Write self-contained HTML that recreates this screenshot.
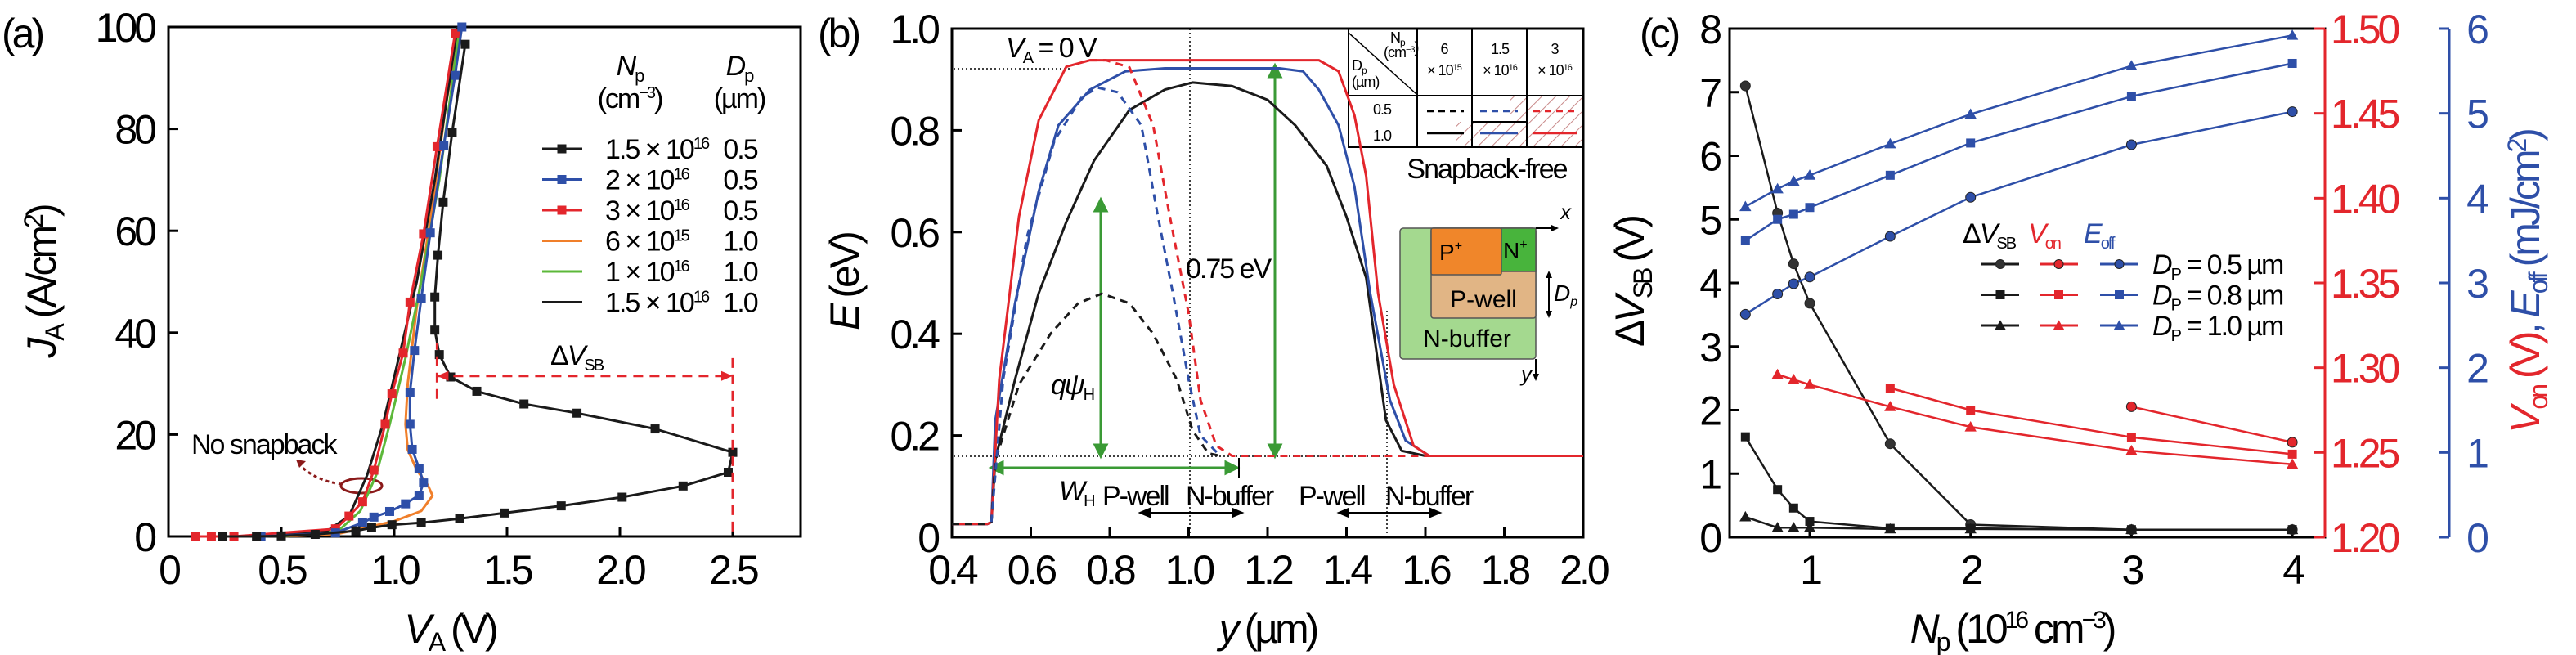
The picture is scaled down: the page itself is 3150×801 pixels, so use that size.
<!DOCTYPE html>
<html><head><meta charset="utf-8"><style>
html,body{margin:0;padding:0;background:#fff}
svg{display:block;font-family:"Liberation Sans",sans-serif}
.t{font-size:50px;letter-spacing:-4px}
.l{font-size:34px;letter-spacing:-2px}
</style></head><body>
<svg id="fig" width="3150" height="801" viewBox="0 0 3150 801" xmlns="http://www.w3.org/2000/svg">
<defs>
<pattern id="hatch" width="12" height="12" patternUnits="userSpaceOnUse" patternTransform="rotate(45)"><line x1="0" y1="0" x2="0" y2="12" stroke="#c98a8a" stroke-width="2"/></pattern>
</defs>
<g id="pa">
<text x="2" y="58" class="t">(a)</text>
<rect x="206" y="33" width="773" height="623" fill="none" stroke="#000" stroke-width="3"/>
<text x="550" y="786" class="t" text-anchor="middle"><tspan font-style="italic">V</tspan><tspan font-size="32" dy="10">A</tspan><tspan dy="-10"> (V)</tspan></text>
<text transform="translate(68,345) rotate(-90)" class="t" text-anchor="middle"><tspan font-style="italic">J</tspan><tspan font-size="32" dy="10">A</tspan><tspan dy="-10"> (A/cm</tspan><tspan font-size="32" dy="-16">2</tspan><tspan dy="16">)</tspan></text>
<g class="l">
<text x="770" y="92" text-anchor="middle"><tspan font-style="italic">N</tspan><tspan font-size="22" dy="8">p</tspan></text>
<text x="770" y="132" text-anchor="middle">(cm<tspan font-size="20" dy="-12">−3</tspan><tspan dy="12">)</tspan></text>
<text x="904" y="92" text-anchor="middle"><tspan font-style="italic">D</tspan><tspan font-size="22" dy="8">p</tspan></text>
<text x="904" y="132" text-anchor="middle">(µm)</text>
</g>
<text x="234" y="555" class="l">No snapback</text>
<ellipse cx="442" cy="594" rx="25" ry="9" fill="none" stroke="#8b1a1a" stroke-width="3"/>
<path d="M418,592 Q385,588 366,568" fill="none" stroke="#8b1a1a" stroke-width="3" stroke-dasharray="4,4"/>
<path d="M362,562 l12,2 l-8,8 z" fill="#8b1a1a"/>
<text x="673" y="446" class="l">Δ<tspan font-style="italic">V</tspan><tspan font-size="20" dy="7">SB</tspan></text>
</g>
<g id="pb">
<text x="1000" y="58" class="t">(b)</text>
<rect x="1164" y="35" width="772" height="622" fill="none" stroke="#000" stroke-width="3"/>
<text x="1550" y="786" class="t" text-anchor="middle"><tspan font-style="italic">y</tspan> (µm)</text>
<text transform="translate(1050,345) rotate(-90)" class="t" text-anchor="middle"><tspan font-style="italic">E</tspan> (eV)</text>
<text x="1230" y="70" class="l"><tspan font-style="italic">V</tspan><tspan font-size="20" dy="7">A</tspan><tspan dy="-7"> = 0 V</tspan></text>
<line x1="1455" y1="35" x2="1455" y2="657" stroke="#000" stroke-width="1.5" stroke-dasharray="2,3"/>
<line x1="1696" y1="380" x2="1696" y2="657" stroke="#000" stroke-width="1.5" stroke-dasharray="2,3"/>
<line x1="1166" y1="84" x2="1310" y2="84" stroke="#000" stroke-width="1.5" stroke-dasharray="2,3"/>
<line x1="1166" y1="558" x2="1700" y2="558" stroke="#000" stroke-width="1.5" stroke-dasharray="2,3"/>
<g stroke="#3a9a35" stroke-width="3" fill="#3a9a35">
<line x1="1346" y1="250" x2="1346" y2="555"/><path d="M1346,244 l-7,14 h14z M1346,558 l-7,-14 h14z"/>
<line x1="1559" y1="86" x2="1559" y2="555"/><path d="M1559,80 l-7,14 h14z M1559,558 l-7,-14 h14z"/>
<line x1="1218" y1="572" x2="1510" y2="572"/><path d="M1212,572 l14,-7 v14z M1513,572 l-14,-7 v14z"/>
</g>
<line x1="1515" y1="560" x2="1515" y2="584" stroke="#000" stroke-width="2"/>
<text x="1285" y="482" class="l"><tspan font-style="italic">qψ</tspan><tspan font-size="20" dy="7">H</tspan></text>
<text x="1450" y="340" class="l">0.75 eV</text>
<text x="1295" y="612" class="l"><tspan font-style="italic">W</tspan><tspan font-size="20" dy="7">H</tspan></text>
<g class="l">
<text x="1348" y="618">P-well</text><text x="1450" y="618">N-buffer</text>
<text x="1588" y="618">P-well</text><text x="1694" y="618">N-buffer</text>
</g>
<g stroke="#000" stroke-width="2" fill="#000">
<line x1="1398" y1="627" x2="1515" y2="627"/><path d="M1394,627 l12,-5 v10z M1519,627 l-12,-5 v10z"/>
<line x1="1641" y1="627" x2="1757" y2="627"/><path d="M1637,627 l12,-5 v10z M1761,627 l-12,-5 v10z"/>
</g>
<g>
<rect x="1780" y="149" width="67" height="31" fill="url(#hatch)"/>
<rect x="1847" y="117" width="89" height="63" fill="url(#hatch)"/>
<rect x="1649" y="35" width="287" height="145" fill="none" stroke="#000" stroke-width="2"/>
<line x1="1649" y1="117" x2="1936" y2="117" stroke="#000" stroke-width="2"/>
<line x1="1733" y1="35" x2="1733" y2="180" stroke="#000" stroke-width="2"/>
<line x1="1800" y1="35" x2="1800" y2="180" stroke="#000" stroke-width="2"/>
<line x1="1867" y1="35" x2="1867" y2="180" stroke="#000" stroke-width="2"/>
<line x1="1800" y1="149" x2="1867" y2="149" stroke="#000" stroke-width="2"/>
<line x1="1649" y1="40" x2="1732" y2="115" stroke="#000" stroke-width="1.5"/>
<g font-size="18" letter-spacing="-1"><text x="1700" y="52">N<tspan font-size="12" dy="4">p</tspan></text><text x="1692" y="70">(cm<tspan font-size="11" dy="-6">−3</tspan>)</text>
<text x="1653" y="86">D<tspan font-size="12" dy="4">p</tspan></text><text x="1653" y="106">(µm)</text>
<text x="1766" y="66" text-anchor="middle">6</text><text x="1766" y="92" text-anchor="middle">× 10<tspan font-size="11" dy="-6">15</tspan></text>
<text x="1834" y="66" text-anchor="middle">1.5</text><text x="1834" y="92" text-anchor="middle">× 10<tspan font-size="11" dy="-6">16</tspan></text>
<text x="1901" y="66" text-anchor="middle">3</text><text x="1901" y="92" text-anchor="middle">× 10<tspan font-size="11" dy="-6">16</tspan></text>
<text x="1690" y="140" text-anchor="middle">0.5</text><text x="1690" y="172" text-anchor="middle">1.0</text></g>
<g stroke-width="2.5"><line x1="1745" y1="136" x2="1790" y2="136" stroke="#000" stroke-dasharray="8,6"/><line x1="1745" y1="163" x2="1790" y2="163" stroke="#000"/>
<line x1="1810" y1="136" x2="1856" y2="136" stroke="#2e4fa8" stroke-dasharray="8,6"/><line x1="1810" y1="163" x2="1856" y2="163" stroke="#2e4fa8"/>
<line x1="1875" y1="136" x2="1928" y2="136" stroke="#e3262c" stroke-dasharray="8,6"/><line x1="1875" y1="163" x2="1928" y2="163" stroke="#e3262c"/></g>
</g>
<text x="1818" y="218" class="l" text-anchor="middle">Snapback-free</text>
<g>
<rect x="1712" y="279" width="166" height="160" rx="4" fill="#a4d98f" stroke="#555" stroke-width="1.5"/>
<rect x="1750" y="279" width="128" height="110" rx="3" fill="#e1b585" stroke="#555" stroke-width="1.5"/>
<rect x="1750" y="279" width="86" height="57" rx="2" fill="#f0862a" stroke="#555" stroke-width="1.5"/>
<rect x="1836" y="279" width="42" height="53" fill="#48b43c" stroke="#555" stroke-width="1.5"/>
<text x="1760" y="318" font-size="28">P<tspan font-size="16" dy="-12">+</tspan></text>
<text x="1838" y="316" font-size="28">N<tspan font-size="16" dy="-12">+</tspan></text>
<text x="1814" y="376" font-size="30" text-anchor="middle">P-well</text>
<text x="1794" y="424" font-size="30" text-anchor="middle">N-buffer</text>
<line x1="1878" y1="279" x2="1900" y2="279" stroke="#000" stroke-width="2"/><path d="M1906,279 l-9,-4 v8z"/>
<line x1="1878" y1="439" x2="1878" y2="460" stroke="#000" stroke-width="2"/><path d="M1878,466 l-4,-9 h8z"/>
<line x1="1894" y1="334" x2="1894" y2="386" stroke="#000" stroke-width="2"/><path d="M1894,331 l-4,9 h8z M1894,389 l-4,-9 h8z"/>
<text x="1908" y="268" font-size="26" font-style="italic">x</text>
<text x="1860" y="466" font-size="26" font-style="italic">y</text>
<text x="1900" y="368" font-size="28" font-style="italic">D<tspan font-size="16" dy="6">p</tspan></text>
</g>
</g>
<g id="pc">
<text x="2005" y="58" class="t">(c)</text>
<rect x="2115" y="35" width="728" height="622" fill="none" stroke="#000" stroke-width="3"/>
<line x1="2843" y1="35" x2="2843" y2="657" stroke="#e3262c" stroke-width="3"/>
<line x1="2995" y1="35" x2="2995" y2="657" stroke="#2e4fa8" stroke-width="3"/>
<text x="2460" y="786" class="t" text-anchor="middle"><tspan font-style="italic">N</tspan><tspan font-size="32" dy="10">p</tspan><tspan dy="-10"> (10</tspan><tspan font-size="30" dy="-18">16</tspan><tspan dy="18"> cm</tspan><tspan font-size="30" dy="-18">−3</tspan><tspan dy="18">)</tspan></text>
<text transform="translate(2010,345) rotate(-90)" class="t" text-anchor="middle">Δ<tspan font-style="italic">V</tspan><tspan font-size="32" dy="10">SB</tspan><tspan dy="-10"> (V)</tspan></text>
<text transform="translate(3105,345) rotate(-90)" class="t" text-anchor="middle"><tspan fill="#e3262c"><tspan font-style="italic">V</tspan><tspan font-size="32" dy="10">on</tspan><tspan dy="-10"> (V)</tspan></tspan><tspan fill="#2e4fa8">, <tspan font-style="italic">E</tspan><tspan font-size="32" dy="10">off</tspan><tspan dy="-10"> (mJ/cm</tspan><tspan font-size="32" dy="-16">2</tspan><tspan dy="16">)</tspan></tspan></text>
<g class="l">
<text x="2400" y="297">Δ<tspan font-style="italic">V</tspan><tspan font-size="20" dy="7">SB</tspan></text>
<text x="2480" y="297" fill="#e3262c"><tspan font-style="italic">V</tspan><tspan font-size="20" dy="7">on</tspan></text>
<text x="2548" y="297" fill="#2e4fa8"><tspan font-style="italic">E</tspan><tspan font-size="20" dy="7">off</tspan></text>
</g>
</g>
<g id="marks"></g>
</svg>
<script>
const aTicksX=[0,0.5,1.0,1.5,2.0,2.5];
const aTickLabelsX=["0","0.5","1.0","1.5","2.0","2.5"];
const aTicksY=[0,20,40,60,80,100];
const a1V=[0.24,0.39,0.5,0.65,0.83,0.9,0.99,1.12,1.29,1.49,1.74,2.01,2.28,2.48,2.5,2.156,1.81,1.575,1.366,1.25,1.2,1.18,1.18,1.194,1.217,1.257,1.315];
const a1J=[0,0,0.1,0.4,1.1,1.7,2.3,2.7,3.5,4.6,6,7.7,9.9,12.6,16.5,21.1,24.2,26,28.5,31.3,35.7,40.5,47,55.2,65.6,79.3,96.6];
const a2V=[0.41,0.74,0.86,0.91,0.98,1.05,1.11,1.13,1.11,1.08,1.07,1.07,1.09,1.12,1.16,1.22,1.27,1.3];
const a2J=[0,0.7,2.7,3.8,4.9,6.4,8.1,10.5,13.4,17.1,22,28.3,36.5,46.7,59.6,76.8,90.5,100];
const a3V=[0.12,0.19,0.29,0.74,0.8,0.86,0.91,0.96,0.99,1.04,1.07,1.13,1.19,1.27];
const a3J=[0,0,0,1.5,4,6.8,13,22,28,36,46,59.4,76.5,98.8];
const a4V=[0.5,0.75,1.0,1.12,1.17,1.15,1.1,1.06,1.05,1.06,1.1,1.17,1.23,1.29];
const a4J=[0,0.5,3,5,8,10,13,17,22,30,45,65,85,100];
const a5V=[0.5,0.75,0.85,0.92,0.98,1.05,1.12,1.2,1.29];
const a5J=[0,1,5,12,22,35,50,70,100];
const a6V=[0.5,0.7,0.8,0.88,0.95,1.02,1.1,1.18,1.28];
const a6J=[0.5,1,4,12,22,35,50,70,100];
const aLegendNp=["1.5 × 10","2 × 10","3 × 10","6 × 10","1 × 10","1.5 × 10"];
const aLegendExp=["16","16","16","15","16","16"];
const aLegendDp=["0.5","0.5","0.5","1.0","1.0","1.0"];
const bTicksX=[0.4,0.6,0.8,1.0,1.2,1.4,1.6,1.8,2.0];
const bTickLabelsX=["0.4","0.6","0.8","1.0","1.2","1.4","1.6","1.8","2.0"];
const bTicksY=[0,0.2,0.4,0.6,0.8,1.0];
const bTickLabelsY=["0","0.2","0.4","0.6","0.8","1.0"];
const bBlackSolidY=[0.4,0.49,0.5,0.51,0.56,0.62,0.69,0.76,0.85,0.94,1.01,1.11,1.2,1.27,1.35,1.4,1.45,1.5,1.54,1.6,2.0];
const bBlackSolidE=[0.026,0.026,0.03,0.153,0.31,0.48,0.62,0.74,0.84,0.88,0.894,0.887,0.86,0.81,0.73,0.63,0.51,0.23,0.17,0.16,0.16];
const bBlueSolidY=[0.4,0.49,0.5,0.51,0.56,0.62,0.67,0.75,0.84,0.94,1.23,1.29,1.33,1.38,1.42,1.46,1.51,1.55,1.61,2.0];
const bBlueSolidE=[0.026,0.026,0.03,0.23,0.46,0.68,0.81,0.88,0.916,0.922,0.922,0.916,0.88,0.81,0.69,0.48,0.27,0.19,0.16,0.16];
const bRedSolidY=[0.4,0.49,0.5,0.52,0.57,0.62,0.69,0.75,1.33,1.38,1.42,1.45,1.48,1.52,1.57,1.61,2.0];
const bRedSolidE=[0.026,0.026,0.03,0.31,0.63,0.82,0.925,0.938,0.938,0.916,0.83,0.71,0.48,0.30,0.18,0.16,0.16];
const bBlackDashY=[0.4,0.49,0.5,0.51,0.57,0.65,0.72,0.78,0.85,0.91,0.97,1.01,1.05,1.08];
const bBlackDashE=[0.026,0.026,0.03,0.15,0.3,0.4,0.46,0.479,0.46,0.4,0.31,0.21,0.165,0.16];
const bBlueDashY=[0.5,0.53,0.59,0.66,0.73,0.77,0.82,0.88,0.92,0.96,1.0,1.03,1.08];
const bBlueDashE=[0.03,0.31,0.59,0.78,0.866,0.884,0.875,0.81,0.64,0.48,0.31,0.2,0.16];
const bRedDashY=[0.75,0.79,0.85,0.91,0.95,1.0,1.03,1.07,1.11,2.0];
const bRedDashE=[0.938,0.938,0.924,0.81,0.64,0.44,0.27,0.18,0.16,0.16];
const cTicksX=[1,2,3,4];
const cTicksLeft=[0,1,2,3,4,5,6,7,8];
const cTicksRed=[1.20,1.25,1.30,1.35,1.40,1.45,1.50];
const cTickLabelsRed=["1.20","1.25","1.30","1.35","1.40","1.45","1.50"];
const cTicksBlue=[0,1,2,3,4,5,6];
const cNp=[0.6,0.8,0.9,1.0,1.5,2,3,4];
const cVsb05=[7.1,5.1,4.3,3.68,1.47,0.2,0.12,0.12];
const cVsb08=[1.58,0.75,0.46,0.25,0.14,0.14,0.12,0.12];
const cVsb10=[0.32,0.15,0.15,0.15,0.13,0.13,0.12,0.12];
const cVonNp05=[3,4];
const cVon05=[1.277,1.256];
const cVonNp08=[1.5,2,3,4];
const cVon08=[1.288,1.275,1.259,1.249];
const cVonNp10=[0.8,0.9,1.0,1.5,2,3,4];
const cVon10=[1.296,1.293,1.290,1.277,1.265,1.251,1.243];
const cEoff05=[2.63,2.87,2.99,3.07,3.55,4.01,4.63,5.02];
const cEoff08=[3.5,3.75,3.81,3.89,4.27,4.65,5.2,5.59];
const cEoff10=[3.9,4.11,4.2,4.27,4.64,4.99,5.56,5.92];
const cLegendLabels=["0.5","0.8","1.0"];

const NS="http://www.w3.org/2000/svg";
const root=document.getElementById('marks');
function mk(tag,attrs,parent){const e=document.createElementNS(NS,tag);for(const k in attrs)e.setAttribute(k,attrs[k]);(parent||root).appendChild(e);return e;}
const xa=v=>206+v*276, ya=j=>656-j*6.23;
const xb=y=>1164+(y-0.4)*482.5, yb=e=>657-e*622;
const xc=n=>2213+(n-1)*196.7, ycl=v=>657-v*77.75, ycr=v=>657-(v-1.2)/0.3*622, ycb=v=>657-v*103.67;
const BLK="#1a1a1a",BLU="#2e4fa8",RED="#e3262c",ORG="#f07f2a",GRN="#5cb83a";

function poly(xs,ys,fx,fy,color,dash,w,name){
  const p=mk('polyline',{points:xs.map((v,i)=>fx(v).toFixed(1)+','+fy(ys[i]).toFixed(1)).join(' '),fill:'none',stroke:color,'stroke-width':w||3,'stroke-dasharray':dash||'none','stroke-linejoin':'round'});
  
  
  return p;
}
function marker(shape,x,y,color,s,name){
  let e;
  if(shape==='sq') e=mk('rect',{x:x-s/2,y:y-s/2,width:s,height:s,fill:color});
  else if(shape==='ci') e=mk('circle',{cx:x,cy:y,r:s/2,fill:color,stroke:'#222','stroke-width':1});
  else e=mk('path',{d:`M${x},${y-s*0.6} L${x+s*0.6},${y+s*0.45} L${x-s*0.6},${y+s*0.45}Z`,fill:color});
  
  
  return e;
}
function txt(x,y,s,cls,anchor,fill,name){
  const t=mk('text',{x:x,y:y,'class':cls,'text-anchor':anchor||'middle',fill:fill||'#000'});t.textContent=s;
  
  
  return t;
}
function tick(x1,y1,x2,y2,color,name){
  const l=mk('line',{x1:x1,y1:y1,x2:x2,y2:y2,stroke:color||'#000','stroke-width':3});
  
  
}
aTicksX.forEach((v,i)=>{tick(xa(v),656,xa(v),644,'#000','a-x-tick');txt(xa(v),714,aTickLabelsX[i],'t','middle','#000','a-x-tick-label');});
aTicksY.forEach(v=>{tick(206,ya(v),218,ya(v),'#000','a-y-tick');txt(188,ya(v)+18,String(v),'t','end','#000','a-y-tick-label');});
poly(a4V,a4J,xa,ya,ORG,null,3,'a-series-6e15-1um');
poly(a5V,a5J,xa,ya,GRN,null,3,'a-series-1e16-1um');
poly(a6V,a6J,xa,ya,BLK,null,3,'a-series-1p5e16-1um');
poly(a3V,a3J,xa,ya,RED,null,3,'a-series-3e16-0p5um');
a3V.forEach((v,i)=>marker('sq',xa(v),ya(a3J[i]),RED,11,'a-point-3e16'));
poly(a2V,a2J,xa,ya,BLU,null,3,'a-series-2e16-0p5um');
a2V.forEach((v,i)=>marker('sq',xa(v),ya(a2J[i]),BLU,11,'a-point-2e16'));
poly(a1V,a1J,xa,ya,BLK,null,3,'a-series-1p5e16-0p5um');
a1V.forEach((v,i)=>marker('sq',xa(v),ya(a1J[i]),BLK,11,'a-point-1p5e16'));
poly([1.19,2.5],[31.5,31.5],xa,ya,RED,'12,8',3,'delta-vsb-arrow');
poly([1.19,1.19],[27,38],xa,ya,RED,'12,8',3,'delta-vsb-left-bar');
poly([2.5,2.5],[35,0],xa,ya,RED,'12,8',3,'delta-vsb-right-bar');
{const h=mk('path',{d:`M${xa(1.19)},${ya(31.5)} l14,-6 v12z M${xa(2.5)},${ya(31.5)} l-14,-6 v12z`,fill:RED});

}
const aLegColors=[BLK,BLU,RED,ORG,GRN,BLK];
const aLegMark=[true,true,true,false,false,false];
aLegendNp.forEach((s,i)=>{
  const y=182+i*37.5;
  tick(663,y,712,y,aLegColors[i],'a-legend-line');
  if(aLegMark[i]) marker('sq',687,y,aLegColors[i],11,'a-legend-marker');
  const t=txt(740,y+12,s,'l','start','#000','a-legend-np');
  const sp=mk('tspan',{'font-size':20,dy:-12},t);sp.textContent=aLegendExp[i];
  txt(905,y+12,aLegendDp[i],'l','middle','#000','a-legend-dp');
});
bTicksX.forEach((v,i)=>{tick(xb(v),657,xb(v),645,'#000','b-x-tick');txt(xb(v),714,bTickLabelsX[i],'t','middle','#000','b-x-tick-label');});
bTicksY.forEach((v,i)=>{tick(1164,yb(v),1176,yb(v),'#000','b-y-tick');txt(1146,yb(v)+18,bTickLabelsY[i],'t','end','#000','b-y-tick-label');});
poly(bBlackSolidY,bBlackSolidE,xb,yb,BLK,null,3,'b-curve-6e15-1um');
poly(bBlueSolidY,bBlueSolidE,xb,yb,BLU,null,3,'b-curve-1p5e16-1um');
poly(bRedSolidY,bRedSolidE,xb,yb,RED,null,3,'b-curve-3e16-1um');
poly(bBlackDashY,bBlackDashE,xb,yb,BLK,'9,7',3,'b-curve-6e15-0p5um');
poly(bBlueDashY,bBlueDashE,xb,yb,BLU,'9,7',3,'b-curve-1p5e16-0p5um');
poly(bRedDashY,bRedDashE,xb,yb,RED,'9,7',3,'b-curve-3e16-0p5um');
cTicksX.forEach(v=>{tick(xc(v),657,xc(v),645,'#000','c-x-tick');txt(xc(v),714,String(v),'t','middle','#000','c-x-tick-label');});
cTicksLeft.forEach(v=>{tick(2115,ycl(v),2127,ycl(v),'#000','c-left-tick');txt(2102,ycl(v)+18,String(v),'t','end','#000','c-left-tick-label');});
cTicksRed.forEach((v,i)=>{tick(2830,ycr(v),2843,ycr(v),RED,'c-von-tick');txt(2850,ycr(v)+18,cTickLabelsRed[i],'t','start',RED,'c-von-tick-label');});
cTicksBlue.forEach(v=>{tick(2982,ycb(v),2995,ycb(v),BLU,'c-eoff-tick');txt(3028,ycb(v)+18,String(v),'t','middle',BLU,'c-eoff-tick-label');});
const GRAY="#333";
poly(cNp,cVsb05,xc,ycl,BLK,null,2.5,'c-vsb-0p5um');cNp.forEach((v,i)=>marker('ci',xc(v),ycl(cVsb05[i]),GRAY,12,'c-vsb-point'));
poly(cNp,cVsb08,xc,ycl,BLK,null,2.5,'c-vsb-0p8um');cNp.forEach((v,i)=>marker('sq',xc(v),ycl(cVsb08[i]),BLK,11,'c-vsb-point'));
poly(cNp,cVsb10,xc,ycl,BLK,null,2.5,'c-vsb-1p0um');cNp.forEach((v,i)=>marker('tr',xc(v),ycl(cVsb10[i]),BLK,12,'c-vsb-point'));
poly(cVonNp05,cVon05,xc,ycr,RED,null,2.5,'c-von-0p5um');cVonNp05.forEach((v,i)=>marker('ci',xc(v),ycr(cVon05[i]),RED,12,'c-von-point'));
poly(cVonNp08,cVon08,xc,ycr,RED,null,2.5,'c-von-0p8um');cVonNp08.forEach((v,i)=>marker('sq',xc(v),ycr(cVon08[i]),RED,11,'c-von-point'));
poly(cVonNp10,cVon10,xc,ycr,RED,null,2.5,'c-von-1p0um');cVonNp10.forEach((v,i)=>marker('tr',xc(v),ycr(cVon10[i]),RED,12,'c-von-point'));
poly(cNp,cEoff05,xc,ycb,BLU,null,2.5,'c-eoff-0p5um');cNp.forEach((v,i)=>marker('ci',xc(v),ycb(cEoff05[i]),BLU,12,'c-eoff-point'));
poly(cNp,cEoff08,xc,ycb,BLU,null,2.5,'c-eoff-0p8um');cNp.forEach((v,i)=>marker('sq',xc(v),ycb(cEoff08[i]),BLU,11,'c-eoff-point'));
poly(cNp,cEoff10,xc,ycb,BLU,null,2.5,'c-eoff-1p0um');cNp.forEach((v,i)=>marker('tr',xc(v),ycb(cEoff10[i]),BLU,12,'c-eoff-point'));
const shapes=['ci','sq','tr'];
cLegendLabels.forEach((s,i)=>{
  const y=323+i*37.5;
  [[2423,2469,BLK,GRAY],[2494,2541,RED,RED],[2568,2615,BLU,BLU]].forEach(c=>{
    tick(c[0],y,c[1],y,c[2],'c-legend-line');
    marker(shapes[i],(c[0]+c[1])/2,y,shapes[i]==='ci'?c[3]:c[2],11,'c-legend-marker');
  });
  const t=mk('text',{x:2632,y:y+12,'class':'l'});
  
  
  const a=mk('tspan',{'font-style':'italic'},t);a.textContent='D';
  const b=mk('tspan',{'font-size':20,dy:7},t);b.textContent='P';
  const c=mk('tspan',{dy:-7},t);c.textContent=' = '+s+' µm';
});
</script>
</body></html>
